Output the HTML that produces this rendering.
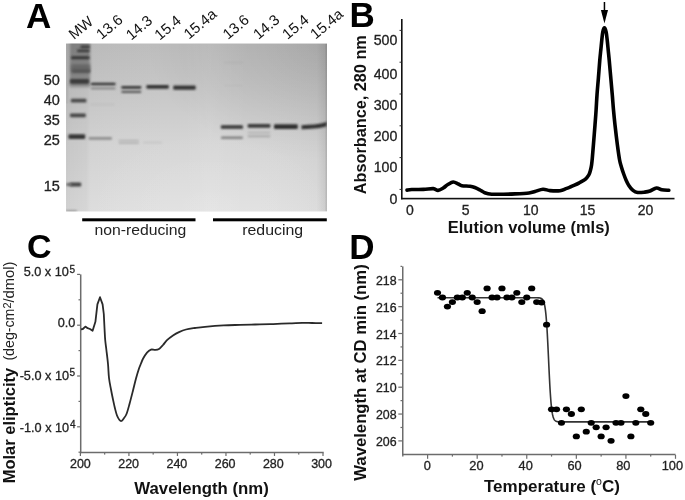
<!DOCTYPE html>
<html><head><meta charset="utf-8"><style>
html,body{margin:0;padding:0;background:#fff;width:685px;height:500px;overflow:hidden;}
svg{display:block;filter:grayscale(1);}
text{font-family:"Liberation Sans", sans-serif;}
.n{stroke:#222;stroke-width:0.3px;}
</style></head><body>
<svg width="685" height="500" viewBox="0 0 685 500" font-family='"Liberation Sans", sans-serif'>
<rect width="685" height="500" fill="#fff"/>
<text x="26" y="27.5" font-size="35" font-weight="bold" fill="#000">A</text>
<text x="0" y="0" font-size="14.9" fill="#111" transform="translate(74.00,40.10) rotate(-40)">MW</text>
<text x="0" y="0" font-size="14.9" fill="#111" transform="translate(101.60,40.10) rotate(-40)">13.6</text>
<text x="0" y="0" font-size="14.9" fill="#111" transform="translate(131.20,40.70) rotate(-40)">14.3</text>
<text x="0" y="0" font-size="14.9" fill="#111" transform="translate(159.80,40.70) rotate(-40)">15.4</text>
<text x="0" y="0" font-size="14.9" fill="#111" transform="translate(189.00,39.70) rotate(-40)">15.4a</text>
<text x="0" y="0" font-size="14.9" fill="#111" transform="translate(228.00,40.10) rotate(-40)">13.6</text>
<text x="0" y="0" font-size="14.9" fill="#111" transform="translate(258.40,40.10) rotate(-40)">14.3</text>
<text x="0" y="0" font-size="14.9" fill="#111" transform="translate(287.60,40.10) rotate(-40)">15.4</text>
<text x="0" y="0" font-size="14.9" fill="#111" transform="translate(315.60,39.70) rotate(-40)">15.4a</text>
<defs>
<linearGradient id="gv" x1="0" y1="0" x2="0" y2="1">
<stop offset="0" stop-color="#bdbdbd"/><stop offset="0.3" stop-color="#c8c8c8"/><stop offset="0.6" stop-color="#d5d5d5"/><stop offset="1" stop-color="#e0e0e0"/>
</linearGradient>
<linearGradient id="gh" x1="0" y1="0" x2="1" y2="0">
<stop offset="0" stop-color="#000" stop-opacity="0.07"/><stop offset="0.015" stop-color="#000" stop-opacity="0.04"/>
<stop offset="0.1" stop-color="#000" stop-opacity="0.015"/><stop offset="0.45" stop-color="#fff" stop-opacity="0.0"/>
<stop offset="0.55" stop-color="#fff" stop-opacity="0.06"/><stop offset="0.7" stop-color="#fff" stop-opacity="0.0"/>
<stop offset="0.96" stop-color="#000" stop-opacity="0.02"/><stop offset="1" stop-color="#000" stop-opacity="0.10"/>
</linearGradient>
<radialGradient id="gtr" cx="1" cy="0" r="0.7">
<stop offset="0" stop-color="#000" stop-opacity="0.10"/><stop offset="1" stop-color="#000" stop-opacity="0"/>
</radialGradient>
<radialGradient id="gbl" cx="0.55" cy="1" r="0.5">
<stop offset="0" stop-color="#fff" stop-opacity="0.10"/><stop offset="1" stop-color="#fff" stop-opacity="0"/>
</radialGradient>
<filter id="bl" x="-20%" y="-200%" width="140%" height="500%"><feGaussianBlur stdDeviation="0.9"/></filter>
<filter id="blm" x="-20%" y="-200%" width="140%" height="500%"><feGaussianBlur stdDeviation="1.1"/></filter>
<filter id="bl2" x="-30%" y="-30%" width="160%" height="160%"><feGaussianBlur stdDeviation="1.6"/></filter>
<clipPath id="gclip"><rect x="66" y="43.5" width="261" height="168"/></clipPath>
</defs>
<rect x="66" y="43.5" width="261" height="168" fill="url(#gv)"/>
<g clip-path="url(#gclip)">
<rect x="66" y="43.5" width="261" height="168" fill="url(#gh)"/>
<rect x="66" y="43.5" width="261" height="168" fill="url(#gtr)"/>
<rect x="66" y="43.5" width="261" height="168" fill="url(#gbl)"/>
<rect x="66" y="43.5" width="2.5" height="60" fill="#000" opacity="0.04"/>
<rect x="325.5" y="43.5" width="1.5" height="168" fill="#000" opacity="0.08"/>
<rect x="69.5" y="40" width="20.5" height="47" fill="#000" opacity="0.30" filter="url(#bl2)"/>
<rect x="68" y="88" width="20" height="125" fill="#000" opacity="0.02" filter="url(#bl2)"/>
<rect x="80.5" y="45.40" width="9.5" height="2.8" rx="1.2" fill="#3a3a3a" opacity="1" filter="url(#blm)"/>
<rect x="77" y="49.40" width="12.5" height="2.8" rx="1.2" fill="#3a3a3a" opacity="1" filter="url(#blm)"/>
<rect x="71" y="56.30" width="18.5" height="3" rx="1.2" fill="#363636" opacity="1" filter="url(#blm)"/>
<rect x="71" y="64.25" width="19" height="8.5" rx="1.2" fill="#666" opacity="1" filter="url(#bl2)"/>
<rect x="72" y="69.50" width="18" height="3" rx="1.2" fill="#555" opacity="1" filter="url(#blm)"/>
<rect x="70" y="79.00" width="19" height="4.8" rx="1.2" fill="#3a3a3a" opacity="1" filter="url(#blm)"/>
<rect x="70.8" y="98.70" width="15.600000000000009" height="3.8" rx="1.2" fill="#4a4a4a" opacity="1" filter="url(#blm)"/>
<rect x="70" y="113.40" width="15.799999999999997" height="3.8" rx="1.2" fill="#444" opacity="1" filter="url(#blm)"/>
<rect x="68.4" y="134.20" width="16.799999999999997" height="4.8" rx="1.2" fill="#363636" opacity="1" filter="url(#blm)"/>
<rect x="70" y="182.40" width="11.200000000000003" height="4" rx="1.2" fill="#444" opacity="1" filter="url(#blm)"/>
<rect x="66.3" y="182.90" width="5.700000000000003" height="3" rx="1.2" fill="#6a6a6a" opacity="1" filter="url(#blm)"/>
<rect x="66" y="210.40" width="11" height="1.2" rx="0.6" fill="#666" opacity="1" filter="url(#bl)"/>
<rect x="90.8" y="82.80" width="24.799999999999997" height="2.4" rx="1.2" fill="#2e2e2e" opacity="1" filter="url(#bl)"/>
<rect x="90.8" y="87.40" width="24.799999999999997" height="1.8" rx="0.9" fill="#7a7a7a" opacity="1" filter="url(#bl)"/>
<rect x="88.5" y="137.05" width="23.5" height="2.7" rx="1.2" fill="#8e8e8e" opacity="1" filter="url(#blm)"/>
<rect x="90" y="103.75" width="25" height="1.5" rx="0.75" fill="#000" opacity="0.05" filter="url(#blm)"/>
<rect x="121.2" y="86.10" width="20.200000000000003" height="2.6" rx="1.2" fill="#363636" opacity="1" filter="url(#bl)"/>
<rect x="121.2" y="90.70" width="20.200000000000003" height="2.2" rx="1.1" fill="#585858" opacity="1" filter="url(#bl)"/>
<rect x="118.5" y="139.70" width="20.5" height="1.8" rx="0.9" fill="#b4b4b4" opacity="1" filter="url(#blm)"/>
<rect x="118.5" y="142.10" width="20.5" height="1.8" rx="0.9" fill="#b6b6b6" opacity="1" filter="url(#blm)"/>
<rect x="146.4" y="85.05" width="22.400000000000006" height="3.7" rx="1.2" fill="#333" opacity="1" filter="url(#bl)"/>
<rect x="143" y="141.75" width="19" height="1.5" rx="0.75" fill="#c2c2c2" opacity="1" filter="url(#blm)"/>
<rect x="173.2" y="85.50" width="22.5" height="4.2" rx="1.2" fill="#363636" opacity="1" filter="url(#bl)"/>
<rect x="220.9" y="125.15" width="22.099999999999994" height="3.7" rx="1.2" fill="#363636" opacity="1" filter="url(#bl)"/>
<rect x="220.9" y="136.50" width="22.099999999999994" height="2.4" rx="1.2" fill="#828282" opacity="1" filter="url(#blm)"/>
<rect x="224" y="62.10" width="19" height="1.2" rx="0.6" fill="#000" opacity="0.05" filter="url(#blm)"/>
<rect x="224" y="84.90" width="19" height="1.2" rx="0.6" fill="#000" opacity="0.04" filter="url(#blm)"/>
<rect x="247.7" y="123.95" width="22.69999999999999" height="3.7" rx="1.2" fill="#383838" opacity="1" filter="url(#bl)"/>
<rect x="247.7" y="131.80" width="22.69999999999999" height="1.6" rx="0.8" fill="#b2b2b2" opacity="1" filter="url(#blm)"/>
<rect x="247.7" y="135.30" width="22.69999999999999" height="2.0" rx="1.0" fill="#a8a8a8" opacity="1" filter="url(#blm)"/>
<rect x="274" y="124.30" width="23.80000000000001" height="4.6" rx="1.2" fill="#2e2e2e" opacity="1" filter="url(#bl)"/>
<path d="M301.5 125.2 C306 125 310 124.9 314 124.6 C319 124.1 323 123.2 326.8 121.8 L326.8 126.2 C323 127.4 319 128.2 314 128.6 C310 128.9 306 129.1 301.5 129.2 Z" fill="#333" filter="url(#bl)"/>
</g>
<text x="59.9" y="85" font-size="14.5" fill="#222" class="n" text-anchor="end">50</text>
<text x="59.9" y="104.8" font-size="14.5" fill="#222" class="n" text-anchor="end">40</text>
<text x="59.9" y="124.8" font-size="14.5" fill="#222" class="n" text-anchor="end">35</text>
<text x="59.9" y="145" font-size="14.5" fill="#222" class="n" text-anchor="end">25</text>
<text x="59.9" y="190.6" font-size="14.5" fill="#222" class="n" text-anchor="end">15</text>
<rect x="82.2" y="218.3" width="113.3" height="3" fill="#000"/>
<rect x="213" y="218.3" width="113.8" height="3" fill="#000"/>
<text x="94.4" y="234.7" font-size="15" fill="#222" textLength="92" lengthAdjust="spacingAndGlyphs">non-reducing</text>
<text x="242.2" y="234.7" font-size="15" fill="#222" textLength="61" lengthAdjust="spacingAndGlyphs">reducing</text>
<text x="349.4" y="27.4" font-size="35" font-weight="bold" fill="#000">B</text>
<rect x="401" y="19" width="1.6" height="180.3" fill="#111"/>
<rect x="401" y="197.8" width="273.5" height="1.6" fill="#111"/>
<rect x="399.5" y="29.90" width="2" height="1" fill="#333"/>
<rect x="399.5" y="61.70" width="2" height="1" fill="#333"/>
<rect x="399.5" y="93.50" width="2" height="1" fill="#333"/>
<rect x="399.5" y="125.30" width="2" height="1" fill="#333"/>
<rect x="399.5" y="157.10" width="2" height="1" fill="#333"/>
<rect x="399.5" y="188.90" width="2" height="1" fill="#333"/>
<text x="397.3" y="44.90" font-size="14.2" fill="#222" class="n" text-anchor="end">500</text>
<text x="397.3" y="78.80" font-size="14.2" fill="#222" class="n" text-anchor="end">400</text>
<text x="397.3" y="109.90" font-size="14.2" fill="#222" class="n" text-anchor="end">300</text>
<text x="397.3" y="140.90" font-size="14.2" fill="#222" class="n" text-anchor="end">200</text>
<text x="397.3" y="172.30" font-size="14.2" fill="#222" class="n" text-anchor="end">100</text>
<text x="397.3" y="203.90" font-size="14.2" fill="#222" class="n" text-anchor="end">0</text>
<text x="409.8" y="214.6" font-size="14" fill="#222" class="n" text-anchor="middle">0</text>
<text x="465.7" y="214.6" font-size="14" fill="#222" class="n" text-anchor="middle">5</text>
<text x="530.8" y="214.6" font-size="14" fill="#222" class="n" text-anchor="middle">10</text>
<text x="587.6" y="214.6" font-size="14" fill="#222" class="n" text-anchor="middle">15</text>
<text x="645.6" y="214.6" font-size="14" fill="#222" class="n" text-anchor="middle">20</text>
<text x="447.8" y="232.8" font-size="16.2" font-weight="bold" fill="#111" textLength="162" lengthAdjust="spacingAndGlyphs">Elution volume (mls)</text>
<text x="0" y="0" font-size="16.2" font-weight="bold" fill="#111" textLength="159" lengthAdjust="spacingAndGlyphs" transform="translate(366,194.2) rotate(-90)">Absorbance, 280 nm</text>
<path d="M407.00 190.10 C407.78 190.00 408.97 189.62 411.70 189.50 C414.43 189.38 419.80 189.55 423.40 189.40 C427.00 189.25 430.87 188.43 433.30 188.60 C435.73 188.77 436.35 190.50 438.00 190.40 C439.65 190.30 441.55 188.98 443.20 188.00 C444.85 187.02 446.23 185.50 447.90 184.50 C449.57 183.50 451.45 182.08 453.20 182.00 C454.95 181.92 456.95 183.38 458.40 184.00 C459.85 184.62 459.97 185.32 461.90 185.70 C463.83 186.08 467.85 186.00 470.00 186.30 C472.15 186.60 473.13 186.88 474.80 187.50 C476.47 188.12 478.35 189.13 480.00 190.00 C481.65 190.87 482.75 192.00 484.70 192.70 C486.65 193.40 488.58 193.95 491.70 194.20 C494.82 194.45 499.52 194.25 503.40 194.20 C507.28 194.15 510.73 194.10 515.00 193.90 C519.27 193.70 525.67 193.40 529.00 193.00 C532.33 192.60 532.67 192.13 535.00 191.50 C537.33 190.87 540.50 189.35 543.00 189.20 C545.50 189.05 547.17 190.35 550.00 190.60 C552.83 190.85 557.33 191.03 560.00 190.70 C562.67 190.37 564.33 189.20 566.00 188.60 C567.67 188.00 568.58 187.67 570.00 187.10 C571.42 186.53 572.95 185.92 574.50 185.20 C576.05 184.48 577.52 183.78 579.30 182.80 C581.08 181.82 583.63 180.57 585.20 179.30 C586.77 178.03 587.83 176.67 588.70 175.20 C589.57 173.73 589.92 172.25 590.40 170.50 C590.88 168.75 591.27 166.95 591.60 164.70 C591.93 162.45 592.10 160.28 592.40 157.00 C592.70 153.72 592.97 150.33 593.40 145.00 C593.83 139.67 594.55 130.83 595.00 125.00 C595.45 119.17 595.77 115.00 596.10 110.00 C596.43 105.00 596.62 100.33 597.00 95.00 C597.38 89.67 597.93 83.83 598.40 78.00 C598.87 72.17 599.40 64.67 599.80 60.00 C600.20 55.33 600.47 53.33 600.80 50.00 C601.13 46.67 601.47 43.03 601.80 40.00 C602.13 36.97 602.37 33.82 602.80 31.80 C603.23 29.78 603.85 27.90 604.40 27.90 C604.95 27.90 605.63 29.78 606.10 31.80 C606.57 33.82 606.85 36.97 607.20 40.00 C607.55 43.03 607.87 46.67 608.20 50.00 C608.53 53.33 608.77 55.33 609.20 60.00 C609.63 64.67 610.28 72.17 610.80 78.00 C611.32 83.83 611.85 89.67 612.30 95.00 C612.75 100.33 613.05 105.00 613.50 110.00 C613.95 115.00 614.35 119.17 615.00 125.00 C615.65 130.83 616.63 139.17 617.40 145.00 C618.17 150.83 618.93 156.33 619.60 160.00 C620.27 163.67 620.72 164.67 621.40 167.00 C622.08 169.33 622.93 171.85 623.70 174.00 C624.47 176.15 625.12 177.95 626.00 179.90 C626.88 181.85 627.83 183.95 629.00 185.70 C630.17 187.45 631.55 189.27 633.00 190.40 C634.45 191.53 635.75 192.22 637.70 192.50 C639.65 192.78 642.65 192.35 644.70 192.10 C646.75 191.85 648.03 191.68 650.00 191.00 C651.97 190.32 654.53 188.22 656.50 188.00 C658.47 187.78 659.75 189.32 661.80 189.70 C663.85 190.08 667.63 190.20 668.80 190.30" fill="none" stroke="#000" stroke-width="3.6" stroke-linejoin="round" stroke-linecap="round"/>
<rect x="603.7" y="2" width="1.5" height="10" fill="#000"/>
<path d="M600.9 10 L608 10 L604.45 23.5 Z" fill="#000"/>
<text x="27" y="258.3" font-size="34" font-weight="bold" fill="#000">C</text>
<rect x="79.95" y="274.4" width="1.5" height="178.8" fill="#6c6c6c"/>
<rect x="79.95" y="451.75" width="243.8" height="1.5" fill="#6c6c6c"/>
<rect x="77.10" y="273.80" width="3" height="1.2" fill="#6c6c6c"/>
<rect x="78.50" y="299.20" width="1.6" height="1.2" fill="#6c6c6c"/>
<rect x="77.10" y="324.60" width="3" height="1.2" fill="#6c6c6c"/>
<rect x="78.50" y="350.00" width="1.6" height="1.2" fill="#6c6c6c"/>
<rect x="77.10" y="375.40" width="3" height="1.2" fill="#6c6c6c"/>
<rect x="78.50" y="400.80" width="1.6" height="1.2" fill="#6c6c6c"/>
<rect x="77.10" y="426.20" width="3" height="1.2" fill="#6c6c6c"/>
<rect x="78.50" y="451.60" width="1.6" height="1.2" fill="#6c6c6c"/>
<rect x="79.80" y="453" width="1.2" height="3" fill="#6c6c6c"/>
<rect x="104.06" y="453" width="1.2" height="1.6" fill="#6c6c6c"/>
<rect x="128.32" y="453" width="1.2" height="3" fill="#6c6c6c"/>
<rect x="152.58" y="453" width="1.2" height="1.6" fill="#6c6c6c"/>
<rect x="176.84" y="453" width="1.2" height="3" fill="#6c6c6c"/>
<rect x="201.10" y="453" width="1.2" height="1.6" fill="#6c6c6c"/>
<rect x="225.36" y="453" width="1.2" height="3" fill="#6c6c6c"/>
<rect x="249.62" y="453" width="1.2" height="1.6" fill="#6c6c6c"/>
<rect x="273.88" y="453" width="1.2" height="3" fill="#6c6c6c"/>
<rect x="298.14" y="453" width="1.2" height="1.6" fill="#6c6c6c"/>
<rect x="322.40" y="453" width="1.2" height="3" fill="#6c6c6c"/>
<text x="0" y="0" font-size="16.8" font-weight="bold" fill="#111" textLength="115.5" lengthAdjust="spacingAndGlyphs" transform="translate(15,483.3) rotate(-90)">Molar elipticity</text>
<text x="0" y="0" font-size="13.8" fill="#222" textLength="52" lengthAdjust="spacingAndGlyphs" transform="translate(14.2,360.6) rotate(-90)">(deg-cm</text>
<text x="0" y="0" font-size="11" fill="#222" transform="translate(11.1,308.6) rotate(-90)">2</text>
<text x="0" y="0" font-size="13.8" fill="#222" textLength="41" lengthAdjust="spacingAndGlyphs" transform="translate(14.2,302.6) rotate(-90)">/dmol)</text>
<text x="68.8" y="276.4" font-size="12.7" fill="#222" class="n" text-anchor="end">5.0 x 10</text>
<text x="69.4" y="273.2" font-size="10" fill="#222" class="n">5</text>
<text x="75.3" y="326.8" font-size="12.7" fill="#222" class="n" text-anchor="end">0.0</text>
<text x="69.0" y="379.7" font-size="12.7" fill="#222" class="n" text-anchor="end">-5.0 x 10</text>
<text x="69.6" y="375.7" font-size="10" fill="#222" class="n">5</text>
<text x="69.2" y="432.4" font-size="12.7" fill="#222" class="n" text-anchor="end">-1.0 x 10</text>
<text x="69.9" y="428.4" font-size="10" fill="#222" class="n">4</text>
<text x="80.40" y="468" font-size="12.5" fill="#222" class="n" text-anchor="middle">200</text>
<text x="128.64" y="468" font-size="12.5" fill="#222" class="n" text-anchor="middle">220</text>
<text x="176.88" y="468" font-size="12.5" fill="#222" class="n" text-anchor="middle">240</text>
<text x="225.12" y="468" font-size="12.5" fill="#222" class="n" text-anchor="middle">260</text>
<text x="273.36" y="468" font-size="12.5" fill="#222" class="n" text-anchor="middle">280</text>
<text x="321.60" y="468" font-size="12.5" fill="#222" class="n" text-anchor="middle">300</text>
<text x="134.3" y="493.6" font-size="16.5" font-weight="bold" fill="#111" textLength="134.5" lengthAdjust="spacingAndGlyphs">Wavelength (nm)</text>
<path d="M81 329.4 L82.80 329.00 L85.40 326.60 L87.60 328.20 L90.00 329.00 L92.60 330.80 L95.40 321.80 L97.40 304.40 L100.00 297.20 L102.60 304.40 L103.80 314.00 L104.60 330.00 C104.70 331.67 104.90 336.67 105.20 340.00 C105.50 343.33 105.93 346.00 106.40 350.00 C106.87 354.00 107.57 359.33 108.00 364.00 C108.43 368.67 108.50 373.75 109.00 378.00 C109.50 382.25 110.33 385.92 111.00 389.50 C111.67 393.08 112.33 396.33 113.00 399.50 C113.67 402.67 114.33 405.83 115.00 408.50 C115.67 411.17 116.25 413.58 117.00 415.50 C117.75 417.42 118.77 419.08 119.50 420.00 C120.23 420.92 120.73 421.20 121.40 421.00 C122.07 420.80 122.65 419.97 123.50 418.80 C124.35 417.63 125.50 416.47 126.50 414.00 C127.50 411.53 128.42 407.92 129.50 404.00 C130.58 400.08 131.92 394.75 133.00 390.50 C134.08 386.25 135.00 382.17 136.00 378.50 C137.00 374.83 138.17 371.00 139.00 368.50 C139.83 366.00 140.33 365.12 141.00 363.50 C141.67 361.88 142.00 360.62 143.00 358.80 C144.00 356.98 145.67 354.13 147.00 352.60 C148.33 351.07 149.67 350.05 151.00 349.60 C152.33 349.15 153.67 350.00 155.00 349.90 C156.33 349.80 157.67 349.82 159.00 349.00 C160.33 348.18 161.67 346.47 163.00 345.00 C164.33 343.53 165.33 341.78 167.00 340.20 C168.67 338.62 171.00 336.85 173.00 335.50 C175.00 334.15 176.83 333.10 179.00 332.10 C181.17 331.10 183.33 330.18 186.00 329.50 C188.67 328.82 191.83 328.45 195.00 328.00 C198.17 327.55 200.23 327.23 205.00 326.80 C209.77 326.37 217.77 325.72 223.60 325.40 C229.43 325.08 234.75 325.05 240.00 324.90 C245.25 324.75 250.10 324.62 255.10 324.50 C260.10 324.38 265.62 324.33 270.00 324.20 C274.38 324.07 277.73 323.85 281.40 323.70 C285.07 323.55 288.50 323.43 292.00 323.30 C295.50 323.17 299.07 322.95 302.40 322.90 C305.73 322.85 308.72 322.97 312.00 323.00 C315.28 323.03 320.42 323.08 322.10 323.10" fill="none" stroke="#2a2a2a" stroke-width="1.8" stroke-linejoin="round"/>
<text x="349.2" y="258.6" font-size="35" font-weight="bold" fill="#000">D</text>
<rect x="402.0" y="266.4" width="1.5" height="188.9" fill="#6c6c6c"/>
<rect x="402.0" y="453.75" width="273.6" height="1.5" fill="#6c6c6c"/>
<rect x="398.30" y="440.30" width="3.8" height="1.2" fill="#6c6c6c"/>
<rect x="400.50" y="426.88" width="1.6" height="1.2" fill="#6c6c6c"/>
<rect x="398.30" y="413.45" width="3.8" height="1.2" fill="#6c6c6c"/>
<rect x="400.50" y="400.02" width="1.6" height="1.2" fill="#6c6c6c"/>
<rect x="398.30" y="386.60" width="3.8" height="1.2" fill="#6c6c6c"/>
<rect x="400.50" y="373.18" width="1.6" height="1.2" fill="#6c6c6c"/>
<rect x="398.30" y="359.75" width="3.8" height="1.2" fill="#6c6c6c"/>
<rect x="400.50" y="346.32" width="1.6" height="1.2" fill="#6c6c6c"/>
<rect x="398.30" y="332.90" width="3.8" height="1.2" fill="#6c6c6c"/>
<rect x="400.50" y="319.48" width="1.6" height="1.2" fill="#6c6c6c"/>
<rect x="398.30" y="306.05" width="3.8" height="1.2" fill="#6c6c6c"/>
<rect x="400.50" y="292.62" width="1.6" height="1.2" fill="#6c6c6c"/>
<rect x="398.30" y="279.20" width="3.8" height="1.2" fill="#6c6c6c"/>
<rect x="400.50" y="265.77" width="1.6" height="1.2" fill="#6c6c6c"/>
<rect x="402.21" y="455" width="1.2" height="1.6" fill="#6c6c6c"/>
<rect x="427.00" y="455" width="1.2" height="3.8" fill="#6c6c6c"/>
<rect x="451.79" y="455" width="1.2" height="1.6" fill="#6c6c6c"/>
<rect x="476.58" y="455" width="1.2" height="3.8" fill="#6c6c6c"/>
<rect x="501.37" y="455" width="1.2" height="1.6" fill="#6c6c6c"/>
<rect x="526.16" y="455" width="1.2" height="3.8" fill="#6c6c6c"/>
<rect x="550.95" y="455" width="1.2" height="1.6" fill="#6c6c6c"/>
<rect x="575.74" y="455" width="1.2" height="3.8" fill="#6c6c6c"/>
<rect x="600.53" y="455" width="1.2" height="1.6" fill="#6c6c6c"/>
<rect x="625.32" y="455" width="1.2" height="3.8" fill="#6c6c6c"/>
<rect x="650.11" y="455" width="1.2" height="1.6" fill="#6c6c6c"/>
<rect x="674.90" y="455" width="1.2" height="3.8" fill="#6c6c6c"/>
<text x="396.6" y="445.90" font-size="12.4" fill="#222" class="n" text-anchor="end">206</text>
<text x="396.6" y="419.05" font-size="12.4" fill="#222" class="n" text-anchor="end">208</text>
<text x="396.6" y="392.20" font-size="12.4" fill="#222" class="n" text-anchor="end">210</text>
<text x="396.6" y="365.35" font-size="12.4" fill="#222" class="n" text-anchor="end">212</text>
<text x="396.6" y="338.50" font-size="12.4" fill="#222" class="n" text-anchor="end">214</text>
<text x="396.6" y="311.65" font-size="12.4" fill="#222" class="n" text-anchor="end">216</text>
<text x="396.6" y="284.80" font-size="12.4" fill="#222" class="n" text-anchor="end">218</text>
<text x="427.30" y="470.2" font-size="12.8" fill="#222" class="n" text-anchor="middle">0</text>
<text x="476.40" y="470.2" font-size="12.8" fill="#222" class="n" text-anchor="middle">20</text>
<text x="525.70" y="470.2" font-size="12.8" fill="#222" class="n" text-anchor="middle">40</text>
<text x="574.60" y="470.2" font-size="12.8" fill="#222" class="n" text-anchor="middle">60</text>
<text x="623.30" y="470.2" font-size="12.8" fill="#222" class="n" text-anchor="middle">80</text>
<text x="672.40" y="470.2" font-size="12.8" fill="#222" class="n" text-anchor="middle">100</text>
<text x="484" y="491.8" font-size="17" font-weight="bold" fill="#111">Temperature (<tspan font-size="10.5" font-weight="normal" dy="-6.5">o</tspan><tspan dy="6.5">C)</tspan></text>
<text x="0" y="0" font-size="17" font-weight="bold" fill="#111" textLength="216.5" lengthAdjust="spacingAndGlyphs" transform="translate(366.3,480.8) rotate(-90)">Wavelength at CD min (nm)</text>
<polyline points="437.52,297.70 440.00,297.70 442.47,297.70 444.95,297.70 447.43,297.70 449.91,297.70 452.39,297.70 454.87,297.70 457.35,297.70 459.83,297.70 462.31,297.70 464.79,297.70 467.26,297.70 469.74,297.70 472.22,297.70 474.70,297.70 477.18,297.70 479.66,297.70 482.14,297.70 484.62,297.70 487.10,297.70 489.58,297.70 492.05,297.70 494.53,297.70 497.01,297.70 499.49,297.70 501.97,297.70 504.45,297.70 506.93,297.70 509.41,297.70 511.89,297.70 514.37,297.70 516.84,297.70 519.32,297.70 521.80,297.70 524.28,297.70 526.76,297.70 529.24,297.70 531.72,297.70 534.20,297.71 536.68,297.73 539.15,297.88 539.40,297.91 539.65,297.95 539.90,298.00 540.15,298.05 540.39,298.12 540.64,298.20 540.89,298.29 541.14,298.40 541.39,298.53 541.63,298.69 541.88,298.87 542.13,299.09 542.38,299.35 542.63,299.65 542.87,300.01 543.12,300.44 543.37,300.94 543.62,301.53 543.87,302.22 544.11,303.04 544.36,303.99 544.61,305.10 544.86,306.40 545.10,307.90 545.35,309.64 545.60,311.63 545.85,313.91 546.10,316.50 546.34,319.41 546.59,322.68 546.84,326.30 547.09,330.27 547.34,334.58 547.58,339.20 547.83,344.09 548.08,349.20 548.33,354.46 548.58,359.80 548.82,365.14 549.07,370.40 549.32,375.51 549.57,380.40 549.81,385.02 550.06,389.33 550.31,393.30 550.56,396.92 550.81,400.19 551.05,403.10 551.30,405.69 551.55,407.97 551.80,409.96 552.05,411.70 552.29,413.20 552.54,414.50 552.79,415.61 553.04,416.56 553.29,417.38 553.53,418.07 553.78,418.66 554.03,419.16 554.28,419.59 554.52,419.95 554.77,420.25 555.02,420.51 555.27,420.73 555.52,420.91 555.76,421.07 556.01,421.20 556.26,421.31 556.51,421.40 556.76,421.48 557.00,421.55 557.25,421.60 557.50,421.65 557.75,421.69 558.00,421.72 558.24,421.75 558.49,421.77 558.74,421.79 558.99,421.81 559.23,421.83 559.48,421.84 559.73,421.85 559.98,421.86 560.23,421.86 560.47,421.87 560.72,421.87 560.97,421.88 561.22,421.88 561.47,421.88 563.95,421.90 566.42,421.90 568.90,421.90 571.38,421.90 573.86,421.90 576.34,421.90 578.82,421.90 581.30,421.90 583.78,421.90 586.26,421.90 588.74,421.90 591.21,421.90 593.69,421.90 596.17,421.90 598.65,421.90 601.13,421.90 603.61,421.90 606.09,421.90 608.57,421.90 611.05,421.90 613.53,421.90 616.00,421.90 618.48,421.90 620.96,421.90 623.44,421.90 625.92,421.90 628.40,421.90 630.88,421.90 633.36,421.90 635.84,421.90 638.32,421.90 640.79,421.90 643.27,421.90 645.75,421.90 648.23,421.90 650.71,421.90" fill="none" stroke="#333" stroke-width="1.6"/>
<ellipse cx="437.52" cy="292.8" rx="3.6" ry="2.9" fill="#000"/>
<ellipse cx="442.47" cy="297.5" rx="3.6" ry="2.9" fill="#000"/>
<ellipse cx="447.43" cy="306.6" rx="3.6" ry="2.9" fill="#000"/>
<ellipse cx="452.39" cy="302.1" rx="3.6" ry="2.9" fill="#000"/>
<ellipse cx="457.35" cy="297.5" rx="3.6" ry="2.9" fill="#000"/>
<ellipse cx="462.31" cy="297.5" rx="3.6" ry="2.9" fill="#000"/>
<ellipse cx="467.26" cy="292.8" rx="3.6" ry="2.9" fill="#000"/>
<ellipse cx="472.22" cy="297.5" rx="3.6" ry="2.9" fill="#000"/>
<ellipse cx="477.18" cy="302.1" rx="3.6" ry="2.9" fill="#000"/>
<ellipse cx="482.14" cy="311.2" rx="3.6" ry="2.9" fill="#000"/>
<ellipse cx="487.10" cy="288.4" rx="3.6" ry="2.9" fill="#000"/>
<ellipse cx="492.05" cy="297.5" rx="3.6" ry="2.9" fill="#000"/>
<ellipse cx="497.01" cy="297.5" rx="3.6" ry="2.9" fill="#000"/>
<ellipse cx="501.97" cy="288.4" rx="3.6" ry="2.9" fill="#000"/>
<ellipse cx="506.93" cy="297.5" rx="3.6" ry="2.9" fill="#000"/>
<ellipse cx="511.89" cy="297.5" rx="3.6" ry="2.9" fill="#000"/>
<ellipse cx="516.84" cy="292.8" rx="3.6" ry="2.9" fill="#000"/>
<ellipse cx="521.80" cy="302.1" rx="3.6" ry="2.9" fill="#000"/>
<ellipse cx="526.76" cy="297.5" rx="3.6" ry="2.9" fill="#000"/>
<ellipse cx="531.72" cy="288.4" rx="3.6" ry="2.9" fill="#000"/>
<ellipse cx="536.68" cy="302.1" rx="3.6" ry="2.9" fill="#000"/>
<ellipse cx="541.63" cy="302.5" rx="3.6" ry="2.9" fill="#000"/>
<ellipse cx="546.59" cy="324.7" rx="3.6" ry="2.9" fill="#000"/>
<ellipse cx="551.55" cy="409.3" rx="3.6" ry="2.9" fill="#000"/>
<ellipse cx="556.51" cy="409.3" rx="3.6" ry="2.9" fill="#000"/>
<ellipse cx="561.47" cy="422.8" rx="3.6" ry="2.9" fill="#000"/>
<ellipse cx="566.42" cy="409.3" rx="3.6" ry="2.9" fill="#000"/>
<ellipse cx="571.38" cy="414" rx="3.6" ry="2.9" fill="#000"/>
<ellipse cx="576.34" cy="436.4" rx="3.6" ry="2.9" fill="#000"/>
<ellipse cx="581.30" cy="409.3" rx="3.6" ry="2.9" fill="#000"/>
<ellipse cx="586.26" cy="431.7" rx="3.6" ry="2.9" fill="#000"/>
<ellipse cx="591.21" cy="422.8" rx="3.6" ry="2.9" fill="#000"/>
<ellipse cx="596.17" cy="427.3" rx="3.6" ry="2.9" fill="#000"/>
<ellipse cx="601.13" cy="436.4" rx="3.6" ry="2.9" fill="#000"/>
<ellipse cx="606.09" cy="427.3" rx="3.6" ry="2.9" fill="#000"/>
<ellipse cx="611.05" cy="440.8" rx="3.6" ry="2.9" fill="#000"/>
<ellipse cx="616.00" cy="422.8" rx="3.6" ry="2.9" fill="#000"/>
<ellipse cx="620.96" cy="422.8" rx="3.6" ry="2.9" fill="#000"/>
<ellipse cx="625.92" cy="396.1" rx="3.6" ry="2.9" fill="#000"/>
<ellipse cx="630.88" cy="436.4" rx="3.6" ry="2.9" fill="#000"/>
<ellipse cx="635.84" cy="422.8" rx="3.6" ry="2.9" fill="#000"/>
<ellipse cx="640.79" cy="409.3" rx="3.6" ry="2.9" fill="#000"/>
<ellipse cx="645.75" cy="414" rx="3.6" ry="2.9" fill="#000"/>
<ellipse cx="650.71" cy="422.8" rx="3.6" ry="2.9" fill="#000"/>
</svg>
</body></html>
